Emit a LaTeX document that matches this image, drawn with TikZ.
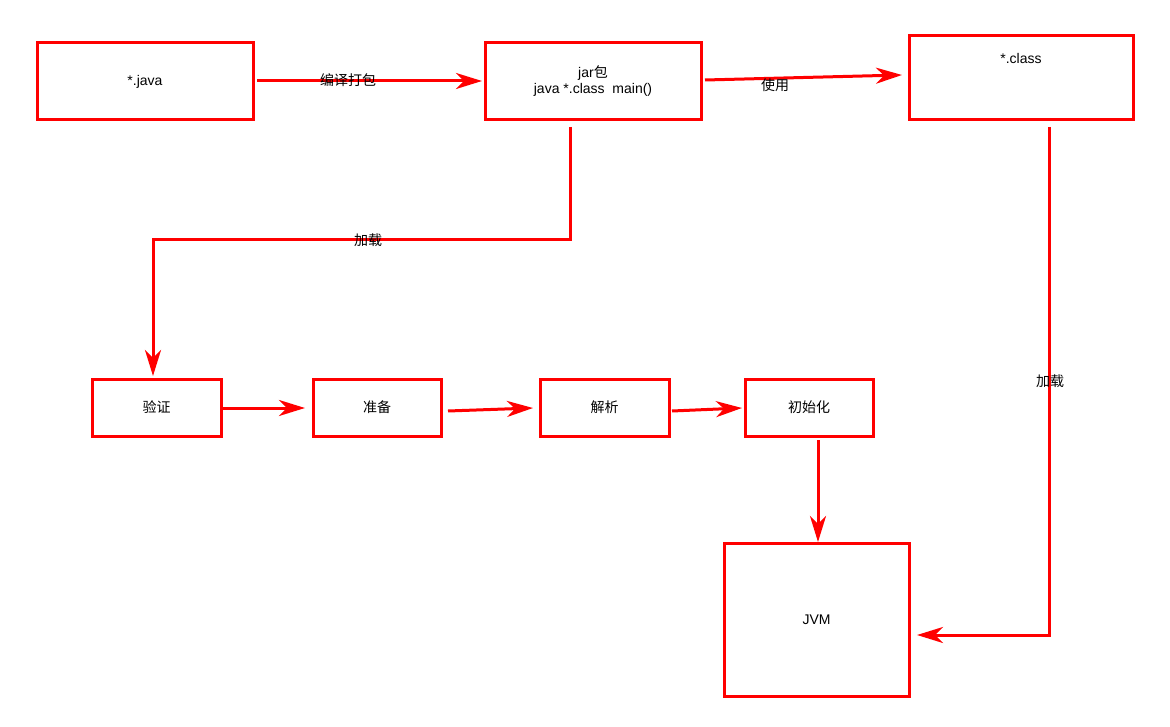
\documentclass[tikz,border=0pt]{standalone}
\usepackage{fontspec}
\setmainfont{Liberation Sans}
\newfontfamily\cjk{Noto Sans CJK SC}
\usetikzlibrary{arrows.meta}
\begin{document}
\begin{tikzpicture}[x=1pt,y=-1pt,
 box/.style={draw=red,line width=3pt,inner sep=0pt,font=\fontsize{14}{16}\selectfont},
 arr/.style={draw=red,line width=3pt,-{Stealth[length=26pt,width=16pt,inset=8pt]}},
 lab/.style={font=\fontsize{14}{16}\selectfont\cjk,inner sep=0pt}]
\useasboundingbox (0,0) rectangle (1170,727);
\fill[white] (0,0) rectangle (1170,727);
\node[box,minimum width=216pt,minimum height=77pt] (java) at (145,81.5) {*.java};
\node[box,minimum width=216pt,minimum height=77pt,align=center] (jar) at (593,81.5) {jar{\cjk 包}\\java *.class\ \ main()};
\node[box,minimum width=224pt,minimum height=84pt,text depth=40pt] (cls) at (1021,78) {*.class};
\node[box,minimum width=129pt,minimum height=57pt] (yz) at (156.5,407.5) {\cjk 验证};
\node[box,minimum width=128pt,minimum height=57pt] (zb) at (377,407.5) {\cjk 准备};
\node[box,minimum width=129pt,minimum height=57pt] (jx) at (604.5,407.5) {\cjk 解析};
\node[box,minimum width=128pt,minimum height=57pt] (csh) at (809,407.5) {\cjk 初始化};
\node[box,minimum width=185pt,minimum height=153pt] (jvm) at (816.5,619.5) {JVM};
\coordinate (c1) at (570,240); \coordinate (c2) at (153,240);
\coordinate (c3) at (1049,635);
\draw[arr] (257,81) -- (482,81);
\node[lab] (l1) at (348,80) {编译打包};
\draw[arr] (705,80) -- (902,75);
\node[lab] (l2) at (775,85) {使用};
\draw[arr] (570,127) -- (c1) -- (c2) -- (153,376);
\node[lab] (l3) at (368,240) {加载};
\draw[arr] (1049,127) -- (c3) -- (917,635);
\node[lab] (l4) at (1050,381) {加载};
\draw[arr] (222,408) -- (305,408);
\draw[arr] (448,411) -- (533,408);
\draw[arr] (672,411) -- (742,408);
\draw[arr] (818,440) -- (818,542);
\end{tikzpicture}
\end{document}
